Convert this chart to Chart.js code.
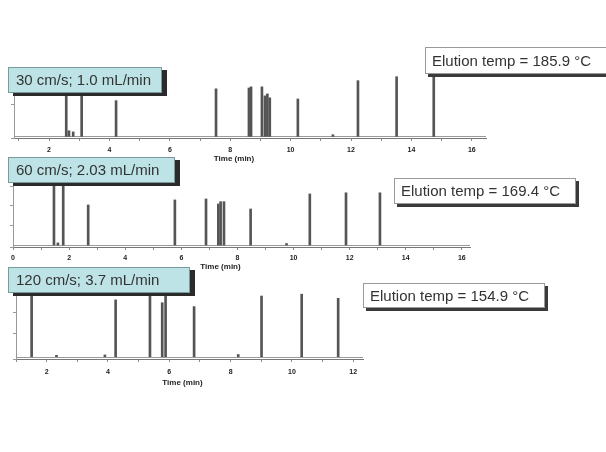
<!DOCTYPE html>
<html><head><meta charset="utf-8">
<script src="https://cdn.jsdelivr.net/npm/chart.js@4"></script>
<style>
html,body{margin:0;padding:0;background:#fff;}
#wrap{position:relative;width:606px;height:452px;overflow:hidden;background:#fff;}
.cv{position:absolute;left:0;width:606px;}
.lbl{position:absolute;box-sizing:border-box;font-family:'Liberation Sans',Arial,sans-serif;font-size:15px;color:#333;white-space:nowrap;}
.teal{background:#bde3e6;border:1px solid #7a9a9c;box-shadow:5px 3px 0 #2b2b2b;padding-left:7px;}
.temp{background:#fff;border:1px solid #9a9a9a;box-shadow:3px 3px 0 #3a3a3a;padding-left:6px;}
</style></head>
<body><div id="wrap">
<div class="cv" style="top:40px;height:126px"><canvas id="c1"></canvas></div>
<div class="cv" style="top:140px;height:135px"><canvas id="c2"></canvas></div>
<div class="cv" style="top:250px;height:137px"><canvas id="c3"></canvas></div>

<div class="lbl teal" id="t1" style="left:8px;top:67px;width:154px;height:26px;line-height:24px"></div>
<div class="lbl teal" id="t2" style="left:8px;top:157px;width:167px;height:26px;line-height:24px"></div>
<div class="lbl teal" id="t3" style="left:8px;top:267px;width:182px;height:26px;line-height:24px"></div>
<div class="lbl temp" id="e1" style="left:425px;top:47px;width:182px;height:27px;line-height:25px"></div>
<div class="lbl temp" id="e2" style="left:394px;top:178px;width:182px;height:26px;line-height:24px"></div>
<div class="lbl temp" id="e3" style="left:363px;top:283px;width:182px;height:25px;line-height:23px"></div>
</div>
<script>
// ---- data (retention time in min, detector response in arbitrary units) ----
const conditions = ["30 cm/s; 1.0 mL/min", "60 cm/s; 2.03 mL/min", "120 cm/s; 3.7 mL/min"];
const elutionTemps = ["Elution temp = 185.9 \u00B0C", "Elution temp = 169.4 \u00B0C", "Elution temp = 154.9 \u00B0C"];
const axisTitle = "Time (min)";

const times1   = [2.57, 2.66, 2.80, 3.08, 4.22, 7.53, 8.62, 8.69, 9.05, 9.15, 9.23, 9.31, 10.24, 11.40, 12.23, 13.51, 14.74];
const heights1 = [2.31, 0.08, 0.04, 2.31, 1.15, 1.57, 1.60, 1.64, 1.64, 1.32, 1.39, 1.25, 1.21, -0.06, 1.86, 2.00, 2.20];

const times2   = [1.46, 1.60, 1.79, 2.68, 5.77, 6.88, 7.32, 7.40, 7.52, 8.47, 9.75, 10.58, 11.87, 13.08];
const heights2 = [4.38, 0.08, 4.38, 2.05, 2.31, 2.36, 2.10, 2.22, 2.22, 1.84, 0.05, 2.62, 2.68, 2.68];

const times3   = [1.51, 2.32, 3.90, 4.25, 5.37, 5.77, 5.88, 6.81, 8.25, 9.01, 10.32, 11.51];
const heights3 = [4.20, -0.10, -0.08, 2.63, 4.20, 2.49, 2.87, 2.30, -0.06, 2.82, 2.91, 2.71];

document.getElementById('t1').textContent = conditions[0];
document.getElementById('t2').textContent = conditions[1];
document.getElementById('t3').textContent = conditions[2];
document.getElementById('e1').textContent = elutionTemps[0];
document.getElementById('e2').textContent = elutionTemps[1];
document.getElementById('e3').textContent = elutionTemps[2];

const baselinePlugin = {
  id: 'baselineTrace',
  beforeDatasetsDraw(chart) {
    const base = chart.data.datasets[0].base;
    const y = Math.round(chart.scales.y.getPixelForValue(base)) + 0.5;
    const a = chart.chartArea, ctx = chart.ctx;
    ctx.save();
    ctx.strokeStyle = '#9a9a9a'; ctx.lineWidth = 1;
    ctx.beginPath(); ctx.moveTo(a.left, y); ctx.lineTo(a.right, y); ctx.stroke();
    ctx.restore();
  }
};
const captionPlugin = {
  id: 'caption',
  afterDraw(chart, args, opts) {
    const a = chart.chartArea, ctx = chart.ctx;
    ctx.save();
    ctx.font = 'bold 8px "Liberation Sans", Arial, sans-serif';
    ctx.fillStyle = '#222'; ctx.textAlign = 'center'; ctx.textBaseline = 'middle';
    ctx.fillText(opts.text, (a.left + a.right) / 2 + opts.dx, a.bottom + opts.dy);
    ctx.restore();
  }
};

function makeChart(id, times, heights, o) {
  return new Chart(document.getElementById(id), {
    type: 'bar',
    data: { datasets: [{
      data: times.map((t, i) => ({ x: t, y: heights[i] })),
      base: o.base, backgroundColor: '#555555', borderWidth: 0, barThickness: 2, grouped: false
    }] },
    options: {
      responsive: true, maintainAspectRatio: false, animation: false,
      layout: { padding: o.pad },
      plugins: { legend: { display: false }, tooltip: { enabled: false },
                 caption: { text: axisTitle, dx: o.capDx, dy: o.capDy } },
      scales: {
        x: {
          type: 'linear', min: o.xmin, max: o.xmax, offset: false,
          afterFit: s => { s.height = 28; s.paddingLeft = 0; s.paddingRight = 0; },
          border: { display: true, color: '#777', width: 1 },
          grid: { display: true, offset: false, drawOnChartArea: false, drawTicks: true, tickLength: 3, color: '#888' },
          ticks: { stepSize: 1, includeBounds: false, autoSkip: false, maxRotation: 0, padding: o.tickPad,
                   color: '#222', font: { family: '"Liberation Sans", Arial, sans-serif', size: 7, weight: 'bold' },
                   callback: v => (Math.round(v) % 2 === 0 ? String(Math.round(v)) : '') }
        },
        y: {
          min: o.ymin, max: o.ymax,
          afterFit: s => { s.width = 0; s.paddingTop = 0; s.paddingBottom = 0; },
          border: { display: true, color: '#999', width: 1 },
          grid: { display: true, drawOnChartArea: false, drawTicks: true, tickLength: 3, color: '#999' },
          ticks: { display: false, stepSize: 1 }
        }
      }
    },
    plugins: [baselinePlugin, captionPlugin]
  });
}

makeChart('c1', times1, heights1, { xmin: 0.84, xmax: 16.47, ymin: -0.177, ymax: 2.31, base: -0.12,
  pad: { left: 14, right: 120, top: 28, bottom: 0 }, tickPad: 5, capDx: -16, capDy: 21 });
makeChart('c2', times2, heights2, { xmin: 0, xmax: 16.29, ymin: -0.13, ymax: 4.38, base: -0.03,
  pad: { left: 13, right: 136, top: 20, bottom: 0 }, tickPad: 4, capDx: -21, capDy: 20 });
makeChart('c3', times3, heights3, { xmin: 1.0, xmax: 12.32, ymin: -0.28, ymax: 4.2, base: -0.17,
  pad: { left: 16, right: 243, top: 18, bottom: 0 }, tickPad: 6, capDx: -7, capDy: 24 });
</script>
</body></html>
